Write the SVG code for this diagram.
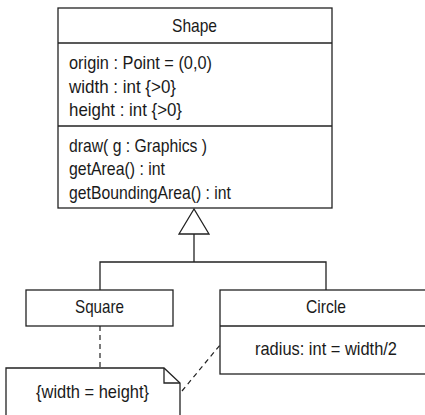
<svg xmlns="http://www.w3.org/2000/svg" width="425" height="415" viewBox="0 0 425 415">
<style>
.box{fill:#fff;stroke:#222;stroke-width:1.3}
.ln{fill:none;stroke:#222;stroke-width:1.3}
.dash{fill:none;stroke:#222;stroke-width:1.2;stroke-dasharray:5 4}
text{font-family:"Liberation Sans",Arial,sans-serif;font-size:19px;fill:#1a1a1a}
</style>
<rect width="425" height="415" fill="#fff"/>
<g id="connectors">
<polyline class="ln" points="100,290 100,262 326,262 326,290"/>
<line class="ln" x1="194" y1="234" x2="194" y2="262"/>
<polygon class="box" points="194,209 179,234 209,234"/>
<line class="dash" x1="100" y1="326" x2="100" y2="368"/>
<line class="dash" x1="182" y1="391" x2="220" y2="345"/>
</g>
<g id="shape">
<rect class="box" x="58" y="8" width="274" height="200"/>
<line class="ln" x1="58" y1="43" x2="332" y2="43"/>
<line class="ln" x1="58" y1="126" x2="332" y2="126"/>
<text x="172" y="32" textLength="45" lengthAdjust="spacingAndGlyphs">Shape</text>
<text x="69" y="69" textLength="143" lengthAdjust="spacingAndGlyphs">origin : Point = (0,0)</text>
<text x="69" y="93" textLength="107" lengthAdjust="spacingAndGlyphs">width : int {&gt;0}</text>
<text x="69" y="116" textLength="113" lengthAdjust="spacingAndGlyphs">height : int {&gt;0}</text>
<text x="69" y="152" textLength="138" lengthAdjust="spacingAndGlyphs">draw( g : Graphics )</text>
<text x="69" y="175" textLength="96" lengthAdjust="spacingAndGlyphs">getArea() : int</text>
<text x="69" y="199" textLength="162" lengthAdjust="spacingAndGlyphs">getBoundingArea() : int</text>
</g>
<g id="square">
<rect class="box" x="26" y="290" width="147" height="36"/>
<text x="75" y="313" textLength="49" lengthAdjust="spacingAndGlyphs">Square</text>
</g>
<g id="circle">
<rect class="box" x="220" y="290" width="212" height="84"/>
<line class="ln" x1="220" y1="326" x2="432" y2="326"/>
<text x="306" y="313" textLength="40" lengthAdjust="spacingAndGlyphs">Circle</text>
<text x="255" y="355" textLength="142" lengthAdjust="spacingAndGlyphs">radius: int = width/2</text>
</g>
<g id="note">
<path class="box" d="M6,420 V368 H164 L180,383 V420"/>
<path class="ln" d="M164,368 V383 H180"/>
<text x="36" y="398" textLength="113" lengthAdjust="spacingAndGlyphs">{width = height}</text>
</g>
</svg>
